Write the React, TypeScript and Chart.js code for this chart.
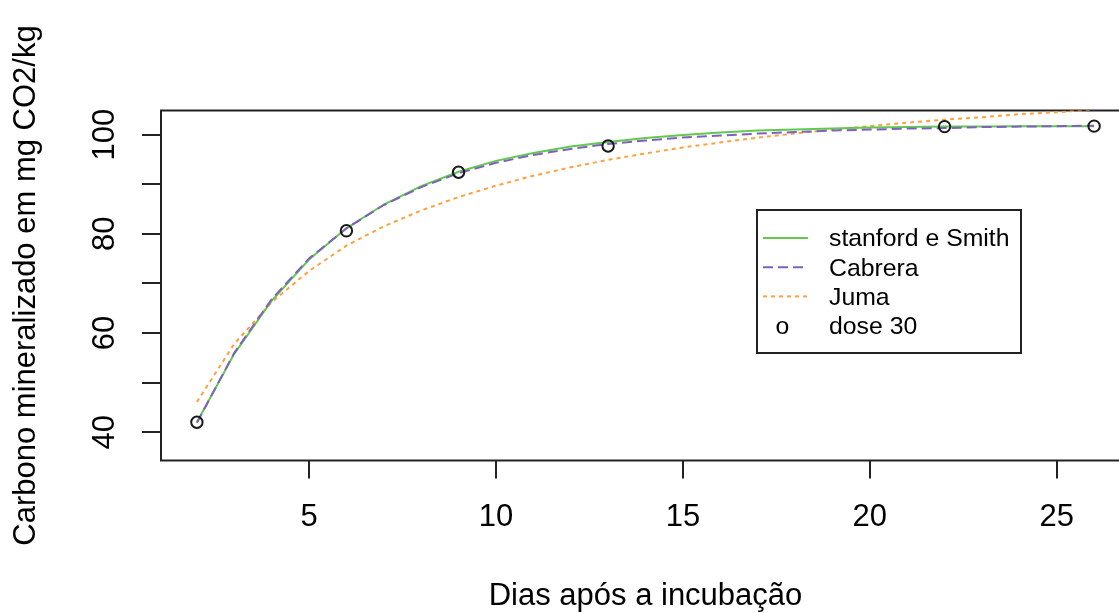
import React, { useEffect, useRef } from 'react';
import { Chart, registerables } from 'chart.js';

Chart.register(...registerables);

// ---- data ----
const days = [2, 3, 4, 5, 6, 7, 8, 9, 10, 11, 12, 13, 14, 15, 16, 17, 18, 19, 20, 21, 22, 23, 24, 25, 26];
const stanfordSmith = [42.0, 55.8, 66.5, 74.8, 81.1, 85.9, 89.6, 92.5, 94.7, 96.3, 97.6, 98.5, 99.3, 99.9, 100.4, 100.8, 101.0, 101.2, 101.4, 101.5, 101.6, 101.6, 101.7, 101.7, 101.7];
const cabrera = [41.9, 56.0, 66.8, 75.0, 81.1, 85.8, 89.4, 92.2, 94.3, 95.9, 97.1, 98.1, 98.8, 99.4, 99.8, 100.2, 100.5, 100.8, 101.0, 101.2, 101.3, 101.5, 101.6, 101.7, 101.8];
const juma = [46.1, 57.8, 66.2, 72.5, 77.6, 81.5, 84.7, 87.4, 89.7, 91.7, 93.4, 94.9, 96.2, 97.4, 98.4, 99.4, 100.2, 101.0, 101.7, 102.4, 103.0, 103.5, 104.1, 104.5, 105.0];
const obsDays = [2, 6, 9, 13, 22, 26];
const dose30 = [42.0, 80.6, 92.4, 97.7, 101.6, 101.7];

const xTicks = [5, 10, 15, 20, 25];
const yTicks = [40, 50, 60, 70, 80, 90, 100];
const yLabelled = [40, 60, 80, 100];

const legendLabels = ['stanford e Smith', 'Cabrera', 'Juma', 'dose 30'];
const xTitle = 'Dias após a incubação';
const yTitle = 'Carbono mineralizado em mg CO2/kg';

const FONT = "'Liberation Sans', Arial, sans-serif";
const CANVAS_W = 1160;
const CANVAS_H = 613;

const boxPlugin = {
  id: 'rbox',
  beforeDatasetsDraw(chart: any) {
    const { ctx, chartArea } = chart;
    ctx.save();
    ctx.strokeStyle = '#222';
    ctx.lineWidth = 2;
    ctx.strokeRect(chartArea.left, chartArea.top, chartArea.right - chartArea.left, chartArea.bottom - chartArea.top);
    ctx.restore();
  },
};

const legendPlugin = {
  id: 'rlegend',
  afterDatasetsDraw(chart: any) {
    const { ctx } = chart;
    const ds = chart.data.datasets;
    const bx = 757, by = 210, bw = 264, bh = 143;
    ctx.save();
    ctx.fillStyle = '#fff';
    ctx.fillRect(bx, by, bw, bh);
    ctx.strokeStyle = '#222';
    ctx.lineWidth = 2;
    ctx.strokeRect(bx, by, bw, bh);
    ctx.font = `24.8px ${FONT}`;
    ctx.textBaseline = 'middle';
    for (let i = 0; i < legendLabels.length; i++) {
      const y = 238 + i * 29.2;
      const d = ds[i];
      if (i < 3) {
        ctx.save();
        ctx.strokeStyle = d.borderColor;
        ctx.lineWidth = d.borderWidth;
        ctx.setLineDash(d.borderDash || []);
        ctx.beginPath();
        ctx.moveTo(763, y);
        ctx.lineTo(808, y);
        ctx.stroke();
        ctx.restore();
      } else {
        ctx.fillStyle = '#000';
        ctx.textAlign = 'center';
        ctx.fillText('o', 782.5, y + 1.5);
      }
      ctx.fillStyle = '#000';
      ctx.textAlign = 'left';
      ctx.fillText(legendLabels[i], 829, y + 1.5);
    }
    ctx.restore();
  },
};

export default function App() {
  const ref = useRef<HTMLCanvasElement>(null);

  useEffect(() => {
    const canvas = ref.current;
    if (!canvas) return;
    const toXY = (xs: number[], ys: number[]) => xs.map((x, i) => ({ x, y: ys[i] }));
    const chart = new Chart(canvas, {
      type: 'line',
      data: {
        datasets: [
          {
            label: legendLabels[0],
            data: toXY(days, stanfordSmith),
            borderColor: '#61C94F',
            borderWidth: 2,
            borderDash: [],
            pointRadius: 0,
            tension: 0,
            fill: false,
            order: 3,
          },
          {
            label: legendLabels[1],
            data: toXY(days, cabrera),
            borderColor: '#8060BE',
            borderWidth: 2,
            borderDash: [10, 5],
            pointRadius: 0,
            tension: 0,
            fill: false,
            order: 2,
          },
          {
            label: legendLabels[2],
            data: toXY(days, juma),
            borderColor: '#FFA03A',
            borderWidth: 2,
            borderDash: [4, 4],
            pointRadius: 0,
            tension: 0,
            fill: false,
            order: 4,
          },
          {
            label: legendLabels[3],
            data: toXY(obsDays, dose30),
            showLine: false,
            pointRadius: 5.7,
            pointBorderWidth: 2,
            pointBorderColor: '#1a1a1a',
            pointBackgroundColor: 'rgba(0,0,0,0)',
            order: 1,
          },
        ] as any,
      },
      options: {
        animation: false,
        responsive: false,
        devicePixelRatio: 1,
        events: [],
        layout: { padding: { left: 0, top: 110.5, right: CANVAS_W - 1130, bottom: 0 } },
        plugins: { legend: { display: false }, tooltip: { enabled: false } },
        scales: {
          x: {
            type: 'linear',
            min: 1.04,
            max: 26.96,
            afterBuildTicks: (s: any) => {
              s.ticks = xTicks.map((v) => ({ value: v }));
            },
            afterFit: (s: any) => {
              s.height = CANVAS_H - 460.5;
            },
            grid: { display: true, drawOnChartArea: false, drawTicks: true, tickLength: 18, lineWidth: 2, color: '#222' },
            border: { display: false },
            ticks: {
              autoSkip: false,
              maxRotation: 0,
              minRotation: 0,
              padding: 20,
              color: '#000',
              font: { family: FONT, size: 31 },
            },
            title: {
              display: true,
              text: xTitle,
              color: '#000',
              font: { family: FONT, size: 31, lineHeight: 1 },
              padding: { top: 0, bottom: 1 },
            },
          },
          y: {
            type: 'linear',
            min: 34.3,
            max: 104.85,
            afterBuildTicks: (s: any) => {
              s.ticks = yTicks.map((v) => ({ value: v }));
            },
            afterFit: (s: any) => {
              s.width = 161;
            },
            grid: { display: true, drawOnChartArea: false, drawTicks: true, tickLength: 19, lineWidth: 2, color: '#222' },
            border: { display: false },
            ticks: {
              autoSkip: false,
              minRotation: 90,
              maxRotation: 90,
              crossAlign: 'center',
              padding: 10.8,
              color: '#000',
              font: { family: FONT, size: 31 },
              callback: (v: any) => (yLabelled.includes(Number(v)) ? String(v) : ''),
            },
            title: {
              display: true,
              text: yTitle,
              color: '#000',
              font: { family: FONT, size: 31, lineHeight: 1 },
              padding: { top: 10.8, bottom: 0 },
            },
          },
        },
      } as any,
      plugins: [boxPlugin, legendPlugin],
    });
    return () => chart.destroy();
  }, []);

  return (
    <div style={{ position: 'fixed', left: 0, top: 0, width: 1119, height: 613, overflow: 'hidden', background: '#fff' }}>
      <canvas ref={ref} width={CANVAS_W} height={CANVAS_H} style={{ display: 'block' }} />
    </div>
  );
}
